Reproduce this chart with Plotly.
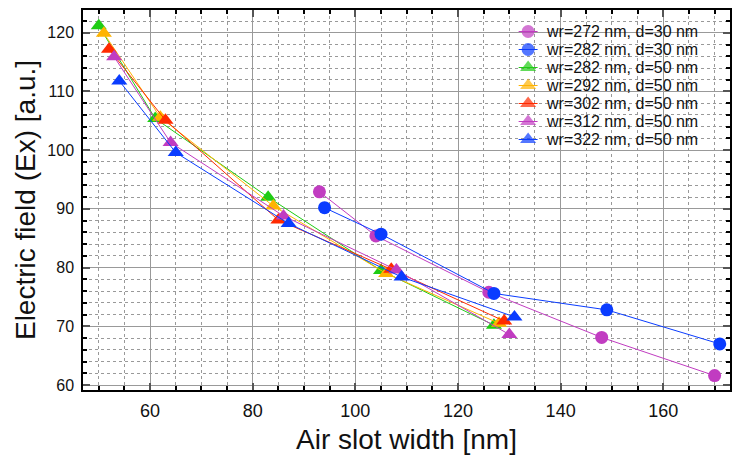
import plotly.graph_objects as go

# ---------------- data ----------------
series_labels = [
    "wr=272 nm, d=30 nm",
    "wr=282 nm, d=30 nm",
    "wr=282 nm, d=50 nm",
    "wr=292 nm, d=50 nm",
    "wr=302 nm, d=50 nm",
    "wr=312 nm, d=50 nm",
    "wr=322 nm, d=50 nm",
]
x_wr272_d30 = [93, 104, 126, 148, 170]
y_wr272_d30 = [92.9, 85.4, 75.8, 68.1, 61.6]
x_wr282_d30 = [94, 105, 127, 149, 171]
y_wr282_d30 = [90.2, 85.7, 75.6, 72.8, 67.0]
x_wr282_d50 = [50, 61, 83, 105, 127]
y_wr282_d50 = [121.2, 105.4, 92.0, 79.5, 70.2]
x_wr292_d50 = [51, 62, 84, 106, 128]
y_wr292_d50 = [119.9, 105.6, 90.5, 79.0, 70.5]
x_wr302_d50 = [52, 63, 85, 107, 129]
y_wr302_d50 = [117.2, 105.1, 88.1, 79.7, 70.9]
x_wr312_d50 = [53, 64, 86, 108, 130]
y_wr312_d50 = [115.9, 101.3, 88.8, 79.6, 68.6]
x_wr322_d50 = [54, 65, 87, 109, 131]
y_wr322_d50 = [111.8, 99.6, 87.5, 78.4, 71.6]

xs = [x_wr272_d30, x_wr282_d30, x_wr282_d50, x_wr292_d50, x_wr302_d50, x_wr312_d50, x_wr322_d50]
ys = [y_wr272_d30, y_wr282_d30, y_wr282_d50, y_wr292_d50, y_wr302_d50, y_wr312_d50, y_wr322_d50]

# ---------------- styles ----------------
colors = ["#c13cc1", "#0a3cff", "#1fcc14", "#ffb400", "#ff2a00", "#c13cc1", "#0a3cff"]
symbols = ["circle", "circle", "triangle-up", "triangle-up", "triangle-up", "triangle-up", "triangle-up"]
sizes = [13, 13, 14, 14, 14, 14, 14]

W, H = 733, 455
ML, MR, MT, MB = 83, 1, 10, 65
PW, PH = W - ML - MR, H - MT - MB
FONT = "Liberation Sans, Arial, Helvetica, sans-serif"


def px_to_paper_x(px):
    return (px - ML) / PW


def px_to_paper_y(py):
    return (H - MB - py) / PH


fig = go.Figure()

for xv, yv, c, s, sz, name in zip(xs, ys, colors, symbols, sizes, series_labels):
    fig.add_trace(go.Scatter(
        x=xv, y=yv, mode="lines+markers", name=name,
        line=dict(color=c, width=1),
        marker=dict(color=c, symbol=s, size=sz, line=dict(width=0)),
        showlegend=False,
    ))

# ---------------- hand-drawn legend (tight row spacing as in reference) ----------------
leg_row0 = 31.5
leg_step = 18.0
for i, (c, s, sz, name) in enumerate(zip(colors, symbols, sizes, series_labels)):
    py = leg_row0 + i * leg_step
    yy = px_to_paper_y(py)
    fig.add_trace(go.Scatter(
        x=[px_to_paper_x(520), px_to_paper_x(529.5), px_to_paper_x(539)],
        y=[yy, yy, yy],
        xaxis="x2", yaxis="y2", mode="lines+markers",
        line=dict(color=c, width=1),
        marker=dict(color=c, symbol=s, size=[0, sz, 0], line=dict(width=0)),
        showlegend=False, hoverinfo="skip",
    ))
    fig.add_annotation(
        x=px_to_paper_x(546), y=yy, xref="paper", yref="paper",
        text=name, showarrow=False, xanchor="left", yanchor="middle",
        font=dict(family=FONT, size=16, color="#111111"), borderpad=0,
    )

fig.add_shape(
    type="rect", xref="paper", yref="paper", layer="below",
    x0=px_to_paper_x(514), x1=px_to_paper_x(719),
    y0=px_to_paper_y(148), y1=px_to_paper_y(21),
    fillcolor="white", line=dict(width=0),
)

axis_common = dict(
    showline=True, linecolor="black", linewidth=1.5, mirror="allticks",
    ticks="inside", ticklen=7, tickwidth=1.5, tickcolor="#555555",
    showgrid=True, gridcolor="#999999", gridwidth=1.3,
    zeroline=False,
)

fig.update_layout(
    width=W, height=H,
    margin=dict(l=ML, r=MR, t=MT, b=MB, pad=0),
    paper_bgcolor="white", plot_bgcolor="white",
    font=dict(family=FONT, color="#111111"),
    xaxis=dict(
        range=[46.93, 173.0], dtick=20, tick0=0,
        tickfont=dict(size=18, family=FONT, color="#111111"),
        title=dict(text="Air slot width [nm]", font=dict(size=28, family=FONT), standoff=10),
        minor=dict(dtick=5, ticks="inside", ticklen=4, tickcolor="black", showgrid=True,
                   gridcolor="#999999", gridwidth=1, griddash="dot"),
        ticklabelstandoff=4,
        **axis_common,
    ),
    yaxis=dict(
        range=[59.15, 123.88], dtick=10, tick0=0,
        tickfont=dict(size=16, family=FONT, color="#111111"),
        title=dict(text="Electric field (Ex) [a.u.]", font=dict(size=28, family=FONT), standoff=4),
        minor=dict(dtick=2, ticks="inside", ticklen=4, tickcolor="black", showgrid=True,
                   gridcolor="#999999", gridwidth=1, griddash="dot"),
        ticklabelstandoff=4,
        **axis_common,
    ),
    xaxis2=dict(overlaying="x", range=[0, 1], visible=False, fixedrange=True),
    yaxis2=dict(overlaying="y", range=[0, 1], visible=False, fixedrange=True),
    showlegend=False,
)

fig.write_html("out.html")
